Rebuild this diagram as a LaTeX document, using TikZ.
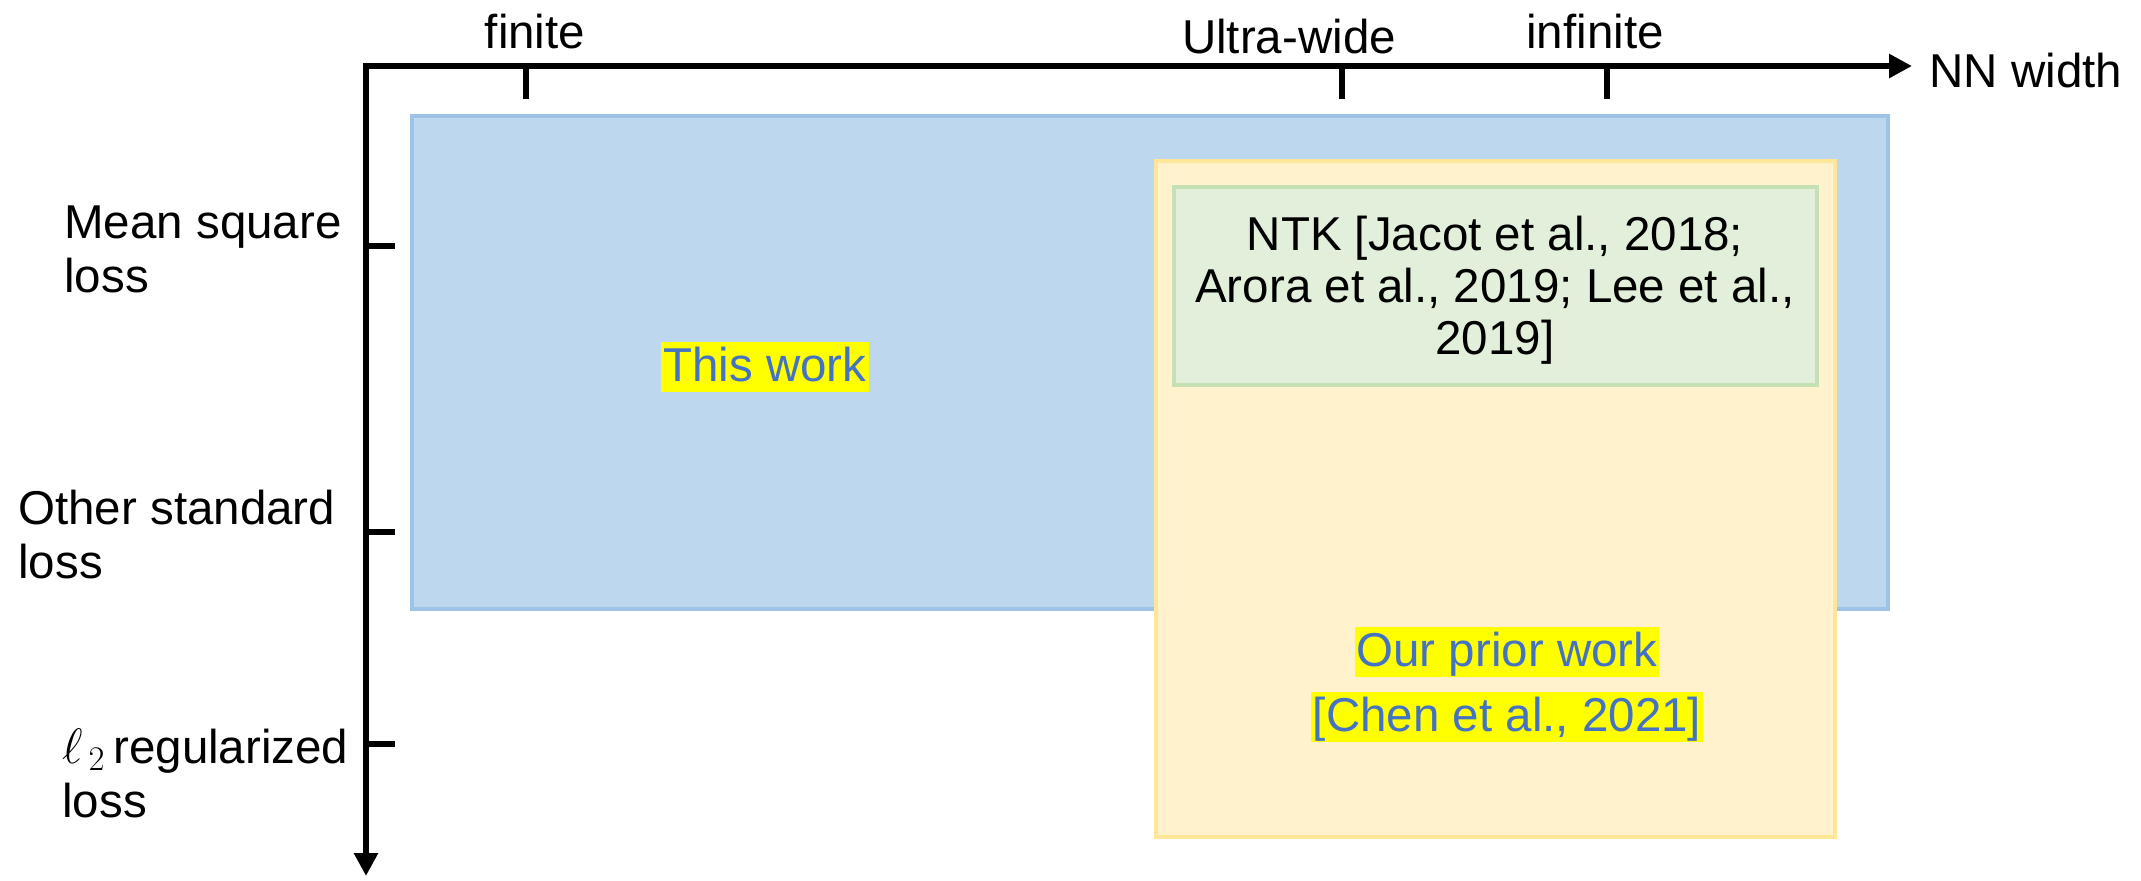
\documentclass[tikz,border=0pt]{standalone}
\usepackage{fontspec}
\setmainfont{Liberation Sans}
\usetikzlibrary{arrows.meta}
\definecolor{workfill}{HTML}{BDD7EE}
\definecolor{workedge}{HTML}{9DC3E6}
\definecolor{priorfill}{HTML}{FFF2CC}
\definecolor{prioredge}{HTML}{FFE699}
\definecolor{ntkfill}{HTML}{E2EFDA}
\definecolor{ntkedge}{HTML}{C5E0B4}
\definecolor{citeblue}{HTML}{4472C4}
\definecolor{marker}{HTML}{FFFF00}
\begin{document}
\begin{tikzpicture}[x=0.5pt,y=-0.5pt,
  lbl/.style={font=\fontsize{23.75}{27}\selectfont, inner sep=0pt},
  axisline/.style={line width=3.4pt, line join=miter, -{Triangle[length=11.5pt,width=11.5pt]}},
  tickline/.style={line width=3.4pt},
  region/.style={line width=2.2pt},
  hl/.style={lbl, fill=marker, text=citeblue, inner xsep=1pt, inner ysep=0pt,
    text height=19.5pt, text depth=5.5pt}
]
\useasboundingbox (0,0) rectangle (2141,880);

% shaded regions
\draw[region, draw=workedge, fill=workfill] (412,116) rectangle (1888,609);
\draw[region, draw=prioredge, fill=priorfill] (1156,161) rectangle (1835,837);
\draw[region, draw=ntkedge, fill=ntkfill] (1174,187) rectangle (1817,385);

% region labels
\node[hl] (thiswork) at (765,367) {This work};
\node[hl] (prior1) at (1507,652) {Our prior work};
\node[hl] (prior2) at (1507,717) {[Chen et al., 2021]};
\node[lbl, align=center, font=\fontsize{23.75}{26}\selectfont] (ntk) at (1495,290)
  {NTK [Jacot et al., 2018;\\Arora et al., 2019; Lee et al.,\\2019]};

% axes
\coordinate (origin) at (366,66);
\coordinate (xend) at (1912,66);
\coordinate (yend) at (366,876);
\coordinate (xstart) at (362.6,66);
\draw[axisline] (xstart) -- (xend);
\draw[axisline] (origin) -- (yend);

% width ticks
\coordinate (tfin) at (526,66);
\coordinate (tultra) at (1342,66);
\coordinate (tinf) at (1607,66);
\draw[tickline] (tfin) -- ++(0,33);
\draw[tickline] (tultra) -- ++(0,33);
\draw[tickline] (tinf) -- ++(0,33);

% loss ticks
\coordinate (tmse) at (366,246);
\coordinate (tother) at (366,532);
\coordinate (treg) at (366,744);
\draw[tickline] (tmse) -- ++(29,0);
\draw[tickline] (tother) -- ++(29,0);
\draw[tickline] (treg) -- ++(29,0);

% axis labels
\node[lbl] (lfin) at (535,32) {finite};
\node[lbl] (lultra) at (1289,37) {Ultra-wide};
\node[lbl] (linf) at (1595,32) {infinite};
\node[lbl, anchor=west] (lwidth) at (1929,71) {NN width};
\node[lbl, anchor=west, align=left] (lmse) at (64,249) {Mean square\\loss};
\node[lbl, anchor=west, align=left] (lother) at (18,535) {Other standard\\loss};
\node[lbl, anchor=west, align=left] (lreg) at (62,773) {$\ell_{\mkern3mu 2}$\,regularized\\loss};
\end{tikzpicture}
\end{document}
